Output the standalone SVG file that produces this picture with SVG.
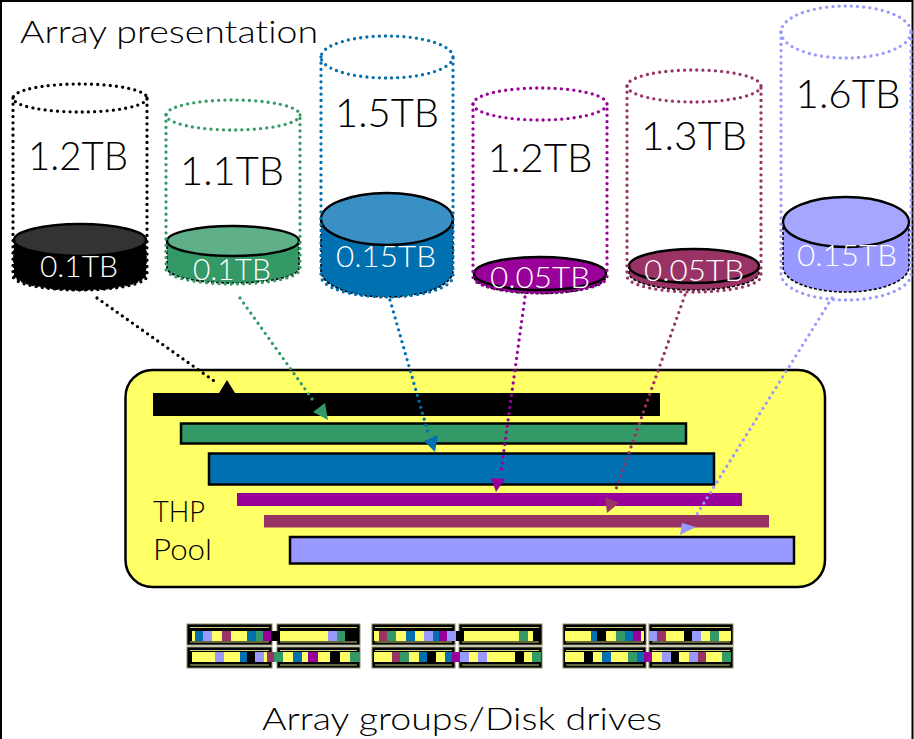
<svg xmlns="http://www.w3.org/2000/svg" width="914" height="739" viewBox="0 0 914 739">
<style>
text{font-family:Lato,"Open Sans","Liberation Sans",sans-serif;font-weight:300;font-variant-ligatures:none}
.big{font-size:39px;fill:#000;text-anchor:middle}
.sm{font-size:29px;fill:#fff;text-anchor:middle}
.lbl{font-size:32px;fill:#000}
.pl{font-size:30px;fill:#000}
.dot{fill:none;stroke-width:3.3;stroke-dasharray:0 6.2;stroke-linecap:round}
.body{stroke:#000;stroke-width:1.6;stroke-dasharray:3 2}
.top{stroke:#000;stroke-width:2.5}
.bar{stroke:#000;stroke-width:2.5}
.du{fill:#000;stroke:#8a8a66;stroke-width:1}
.dl{stroke:#cccc77;stroke-width:1.2;fill:none}
</style>
<rect x="1" y="1" width="911.5" height="750" fill="#fff" stroke="#000" stroke-width="2"/>
<text class="lbl" x="20" y="43" textLength="298" lengthAdjust="spacingAndGlyphs">Array presentation</text>

<g id="vol-1">
<path class="body" d="M14,240 V274 A66,16 0 0 0 146,274 V240 Z" fill="#000"/>
<ellipse class="top" cx="80" cy="240" rx="66" ry="16" fill="#333"/>
<ellipse class="dot" cx="80" cy="98" rx="67" ry="14" stroke="#000"/>
<path class="dot" d="M13,98 V276 A67,14 0 0 0 147,276 V98" stroke="#000"/>
<text class="big" x="78" y="170" textLength="100" lengthAdjust="spacingAndGlyphs">1.2TB</text>
<text class="sm" x="79" y="277" textLength="78" lengthAdjust="spacingAndGlyphs">0.1TB</text>
</g>

<g id="vol-2">
<path class="body" d="M167,241 V268 A66,15 0 0 0 299,268 V241 Z" fill="#339966"/>
<ellipse class="top" cx="233" cy="241" rx="66" ry="15" fill="#5faf88"/>
<ellipse class="dot" cx="233" cy="115" rx="67" ry="15" stroke="#339966"/>
<path class="dot" d="M166,115 V269 A67,15 0 0 0 300,269 V115" stroke="#339966"/>
<text class="big" x="232" y="185" textLength="104" lengthAdjust="spacingAndGlyphs">1.1TB</text>
<text class="sm" x="232" y="280" textLength="78" lengthAdjust="spacingAndGlyphs">0.1TB</text>
</g>

<g id="vol-3">
<path class="body" d="M321,219 V271 A66,26 0 0 0 453,271 V219 Z" fill="#0070b0"/>
<ellipse class="top" cx="387" cy="219" rx="66" ry="26" fill="#3a8fc5"/>
<ellipse class="dot" cx="387" cy="57" rx="66" ry="21" stroke="#0070b0"/>
<path class="dot" d="M321,57 V276 A66,21 0 0 0 453,276 V57" stroke="#0070b0"/>
<text class="big" x="387" y="127" textLength="104" lengthAdjust="spacingAndGlyphs">1.5TB</text>
<text class="sm" x="386" y="267" textLength="100" lengthAdjust="spacingAndGlyphs">0.15TB</text>
</g>

<g id="vol-4">
<path class="body" d="M474,273 V277 A66,16.5 0 0 0 606,277 V273 Z" fill="#990099"/>
<ellipse class="top" cx="540" cy="273.5" rx="66" ry="16.5" fill="#990099"/>
<ellipse class="dot" cx="540" cy="104" rx="67" ry="16" stroke="#990099"/>
<path class="dot" d="M473,104 V277 A67,16 0 0 0 607,277 V104" stroke="#990099"/>
<text class="big" x="540" y="172" textLength="105" lengthAdjust="spacingAndGlyphs">1.2TB</text>
<text class="sm" x="540" y="288" textLength="100" lengthAdjust="spacingAndGlyphs">0.05TB</text>
</g>

<g id="vol-5">
<path class="body" d="M629,266 V273 A65,17 0 0 0 759,273 V266 Z" fill="#993366"/>
<ellipse class="top" cx="694" cy="266" rx="65" ry="17" fill="#993366"/>
<ellipse class="dot" cx="694" cy="86" rx="67" ry="16" stroke="#993366"/>
<path class="dot" d="M627,86 V276 A67,16 0 0 0 761,276 V86" stroke="#993366"/>
<text class="big" x="694" y="150" textLength="106" lengthAdjust="spacingAndGlyphs">1.3TB</text>
<text class="sm" x="694" y="281" textLength="100" lengthAdjust="spacingAndGlyphs">0.05TB</text>
</g>

<g id="vol-6">
<path class="body" d="M783,222 V267 A63,25 0 0 0 909,267 V222 Z" fill="#9999ff"/>
<ellipse class="top" cx="846" cy="222" rx="63" ry="25" fill="#a6a6ff"/>
<ellipse class="dot" cx="846" cy="32" rx="65" ry="26" stroke="#9999ff"/>
<path class="dot" d="M781,32 V274 A65,26 0 0 0 911,274 V32" stroke="#9999ff"/>
<text class="big" x="848" y="108" textLength="105" lengthAdjust="spacingAndGlyphs">1.6TB</text>
<text class="sm" x="847" y="266" textLength="100" lengthAdjust="spacingAndGlyphs">0.15TB</text>
</g>

<g id="thp-pool">
<rect x="125.5" y="370" width="699.5" height="217" rx="27" fill="#ffff66" stroke="#000" stroke-width="2.5"/>
<rect x="153" y="393" width="507" height="23" fill="#000"/>
<rect class="bar" x="181" y="423.5" width="505" height="20" fill="#339966"/>
<rect class="bar" x="209" y="453.5" width="505" height="31" fill="#0070b0"/>
<rect x="237" y="493" width="505" height="13" fill="#990099"/>
<rect x="264" y="515" width="505" height="12.5" fill="#993366"/>
<rect class="bar" x="290" y="537" width="504" height="26.5" fill="#9999ff"/>
<text class="pl" x="153" y="522" textLength="52" lengthAdjust="spacingAndGlyphs">THP</text>
<text class="pl" x="153" y="560" textLength="59" lengthAdjust="spacingAndGlyphs">Pool</text>
</g>

<g id="connectors">
<path class="dot" d="M97,298 L217,383" stroke="#000"/>
<polygon points="219,393 235,393 227,380" fill="#000"/>
<path class="dot" d="M240,298 L315,403" stroke="#339966"/>
<polygon points="313,412 325,403 328,420" fill="#339966"/>
<path class="dot" d="M390,300 L429,436" stroke="#0070b0"/>
<polygon points="424,441 438,435 435,452" fill="#0070b0"/>
<path class="dot" d="M525,297 L501,472" stroke="#990099"/>
<polygon points="491,478 505,479 496,492" fill="#990099"/>
<path class="dot" d="M685,295 L615,492" stroke="#993366"/>
<polygon points="605,497 619,503 607,513" fill="#993366"/>
<path class="dot" d="M832,298 L697,514" stroke="#9999ff"/>
<polygon points="680,535 682,523 696,527" fill="#9999ff"/>
</g>

<g id="disk-drives">
<g>
<rect class="du" x="187" y="624" width="85" height="21"/><rect class="du" x="277" y="624" width="83" height="21"/>
<rect class="du" x="187" y="647" width="85" height="21"/><rect class="du" x="277" y="647" width="83" height="21"/>
<rect class="du" x="372" y="624" width="83" height="21"/><rect class="du" x="459" y="624" width="83" height="21"/>
<rect class="du" x="372" y="647" width="83" height="21"/><rect class="du" x="459" y="647" width="83" height="21"/>
<rect class="du" x="563" y="624" width="83" height="21"/><rect class="du" x="649" y="624" width="84" height="21"/>
<rect class="du" x="563" y="647" width="83" height="21"/><rect class="du" x="649" y="647" width="84" height="21"/>
</g>
<g class="dl">
<path d="M190,627.5H269M280,627.5H357M190,642H269M280,642H357M190,650.5H269M280,650.5H357M190,665H269M280,665H357"/>
<path d="M375,627.5H452M462,627.5H539M375,642H452M462,642H539M375,650.5H452M462,650.5H539M375,665H452M462,665H539"/>
<path d="M566,627.5H643M652,627.5H730M566,642H643M652,642H730M566,650.5H643M652,650.5H730M566,665H643M652,665H730"/>
</g>
<g fill="#ffff66">
<rect x="192" y="631" width="78" height="10"/><rect x="280" y="631" width="76" height="10"/>
<rect x="192" y="652" width="78" height="10"/><rect x="280" y="652" width="76" height="10"/>
<rect x="374" y="631" width="78" height="10"/><rect x="462" y="631" width="76" height="10"/>
<rect x="374" y="652" width="78" height="10"/><rect x="462" y="652" width="76" height="10"/>
<rect x="565" y="631" width="79" height="10"/><rect x="651" y="631" width="80" height="10"/>
<rect x="565" y="652" width="79" height="10"/><rect x="651" y="652" width="80" height="10"/>
</g>
<g>
<rect x="195" y="631" width="8" height="10" fill="#0070b0"/><rect x="203" y="631" width="9" height="10" fill="#9999ff"/>
<rect x="222" y="631" width="9" height="10" fill="#993366"/><rect x="247" y="631" width="9" height="10" fill="#0070b0"/>
<rect x="256" y="631" width="7" height="10" fill="#339966"/><rect x="263" y="631" width="8" height="10" fill="#990099"/>
<rect x="271" y="631" width="9" height="10" fill="#000"/><rect x="328" y="631" width="9" height="10" fill="#9999ff"/>
<rect x="337" y="631" width="8" height="10" fill="#339966"/><rect x="345" y="631" width="11" height="10" fill="#000"/>

<rect x="379" y="631" width="8" height="10" fill="#993366"/><rect x="387" y="631" width="9" height="10" fill="#339966"/>
<rect x="406" y="631" width="9" height="10" fill="#0070b0"/><rect x="424" y="631" width="9" height="10" fill="#9999ff"/>
<rect x="433" y="631" width="6" height="10" fill="#0070b0"/><rect x="439" y="631" width="8" height="10" fill="#990099"/>
<rect x="447" y="631" width="9" height="10" fill="#9999ff"/><rect x="456" y="631" width="8" height="10" fill="#000"/>
<rect x="519" y="631" width="9" height="10" fill="#339966"/><rect x="533" y="631" width="5" height="10" fill="#000"/>

<rect x="591" y="631" width="6" height="10" fill="#0070b0"/><rect x="597" y="631" width="9" height="10" fill="#000"/>
<rect x="616" y="631" width="9" height="10" fill="#339966"/><rect x="625" y="631" width="8" height="10" fill="#0070b0"/>
<rect x="633" y="631" width="8" height="10" fill="#990099"/><rect x="649" y="631" width="8" height="10" fill="#9999ff"/>
<rect x="657" y="631" width="9" height="10" fill="#993366"/><rect x="684" y="631" width="8" height="10" fill="#000"/>
<rect x="692" y="631" width="9" height="10" fill="#9999ff"/><rect x="710" y="631" width="9" height="10" fill="#339966"/>
</g>
<g>
<rect x="215" y="652" width="9" height="10" fill="#9999ff"/><rect x="240" y="652" width="7" height="10" fill="#0070b0"/>
<rect x="247" y="652" width="8" height="10" fill="#000"/><rect x="255" y="652" width="9" height="10" fill="#9999ff"/>
<rect x="267" y="652" width="7" height="10" fill="#993366"/><rect x="274" y="652" width="9" height="10" fill="#339966"/>
<rect x="293" y="652" width="9" height="10" fill="#0070b0"/><rect x="308" y="652" width="10" height="10" fill="#990099"/>
<rect x="330" y="652" width="10" height="10" fill="#000"/><rect x="350" y="652" width="10" height="10" fill="#339966"/>

<rect x="392" y="652" width="8" height="10" fill="#993366"/><rect x="400" y="652" width="9" height="10" fill="#339966"/>
<rect x="419" y="652" width="8" height="10" fill="#0070b0"/><rect x="427" y="652" width="9" height="10" fill="#000"/>
<rect x="445" y="652" width="7" height="10" fill="#0070b0"/><rect x="452" y="652" width="8" height="10" fill="#990099"/>
<rect x="460" y="652" width="9" height="10" fill="#9999ff"/><rect x="478" y="652" width="9" height="10" fill="#9999ff"/>
<rect x="515" y="652" width="9" height="10" fill="#000"/><rect x="532" y="652" width="9" height="10" fill="#339966"/>

<rect x="584" y="652" width="9" height="10" fill="#000"/><rect x="602" y="652" width="9" height="10" fill="#0070b0"/>
<rect x="628" y="652" width="9" height="10" fill="#339966"/><rect x="637" y="652" width="7" height="10" fill="#0070b0"/>
<rect x="644" y="652" width="8" height="10" fill="#990099"/><rect x="662" y="652" width="9" height="10" fill="#9999ff"/>
<rect x="671" y="652" width="8" height="10" fill="#000"/><rect x="689" y="652" width="9" height="10" fill="#9999ff"/>
<rect x="698" y="652" width="8" height="10" fill="#993366"/><rect x="722" y="652" width="9" height="10" fill="#339966"/>
</g>
</g>

<text class="lbl" x="462" y="730" text-anchor="middle" textLength="400" lengthAdjust="spacingAndGlyphs">Array groups/Disk drives</text>
</svg>
